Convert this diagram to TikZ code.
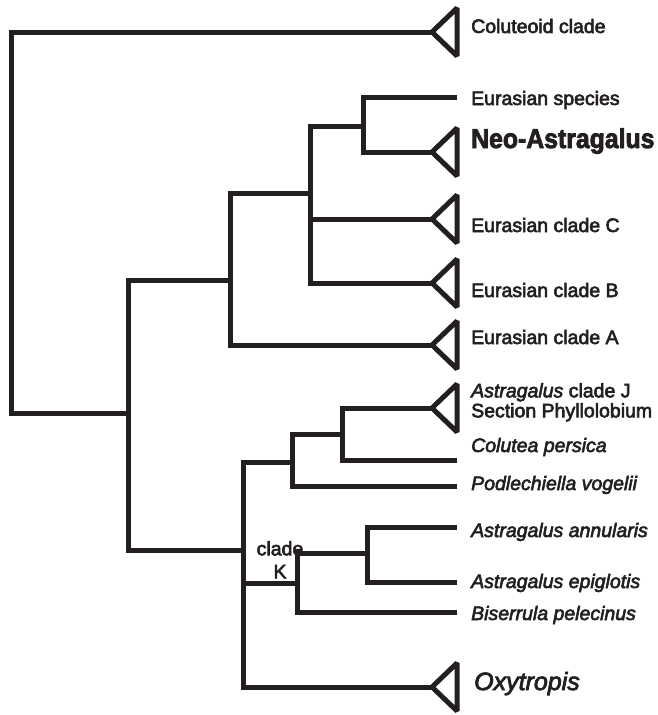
\documentclass[tikz,border=0pt]{standalone}
\usepackage{fontspec}
\usepackage{graphicx}
\setmainfont{Liberation Sans}[FakeBold=3]
\definecolor{ink}{HTML}{231F20}
\begin{document}
\begin{tikzpicture}[x=1pt,y=-1pt,
  br/.style={draw=ink, line width=5pt, line join=miter, line cap=butt},
  tri/.style={draw=ink, line width=5pt, line join=bevel, fill=white},
  lab/.style={inner sep=0pt, anchor=base west, text=ink, font=\fontsize{19.5}{20}\selectfont},
  biglab/.style={inner sep=0pt, anchor=base west, text=ink},
]
\useasboundingbox[fill=white] (0,0) rectangle (657,715);

% internal nodes and tips
\coordinate (root) at (11,222);
\coordinate (tColut) at (432,32);
\coordinate (n1) at (128,413);
\coordinate (n2) at (230,280);
\coordinate (n3) at (310,193);
\coordinate (n4) at (363,126);
\coordinate (tES) at (457,97);
\coordinate (tNeo) at (432,152);
\coordinate (tC) at (432,219);
\coordinate (tB) at (432,283);
\coordinate (tA) at (432,345);
\coordinate (n6) at (243,550);
\coordinate (n7) at (292,462);
\coordinate (n8) at (342,434);
\coordinate (tJ) at (432,408);
\coordinate (tCol) at (457,460);
\coordinate (tPod) at (457,486);
\coordinate (nK) at (297,583);
\coordinate (n9) at (367,553);
\coordinate (tAnn) at (457,527);
\coordinate (tEpi) at (457,582);
\coordinate (tBis) at (457,612);
\coordinate (tOxy) at (432,687);

% branches
\draw[br] (root) |- (tColut);
\draw[br] (root) |- (n1);
\draw[br] (n1) |- (n2);
\draw[br] (n1) |- (n6);
\draw[br] (n2) |- (n3);
\draw[br] (n2) |- (tA);
\draw[br] (n3) |- (n4);
\draw[br] (n3) |- (tC);
\draw[br] (n3) |- (tB);
\draw[br] (n4) |- (tES);
\draw[br] (n4) |- (tNeo);
\draw[br] (n6) |- (n7);
\draw[br] (n6) |- (nK);
\draw[br] (n6) |- (tOxy);
\draw[br] (n7) |- (n8);
\draw[br] (n7) |- (tPod);
\draw[br] (n8) |- (tJ);
\draw[br] (n8) |- (tCol);
\draw[br] (nK) |- (n9);
\draw[br] (nK) |- (tBis);
\draw[br] (n9) |- (tAnn);
\draw[br] (n9) |- (tEpi);

% collapsed clades
\foreach \t in {tColut,tNeo,tC,tB,tA,tJ,tOxy}
  \draw[tri] (\t) -- ++(25,-24) -- ++(0,48) -- cycle;

% labels
\node[lab] (lColut) at (471,33) {Coluteoid clade};
\node[lab] (lES) at (471,105) {Eurasian species};
\node[biglab, font=\bfseries\fontsize{24.8}{26}\selectfont] (lNeo) at (471,148) {\scalebox{1}[1.1]{Neo-Astragalus}};
\node[lab] (lC) at (471,232) {Eurasian clade C};
\node[lab] (lB) at (471,297) {Eurasian clade B};
\node[lab] (lA) at (471,344) {Eurasian clade A};
\node[lab, anchor=north west, align=left] (lJ) at (471,383) {\textit{Astragalus} clade J\\Section Phyllolobium};
\node[lab] (lCol) at (471,452) {\textit{Colutea persica}};
\node[lab] (lPod) at (471,490) {\textit{Podlechiella vogelii}};
\node[lab] (lAnn) at (471,537) {\textit{Astragalus annularis}};
\node[lab] (lEpi) at (471,588) {\textit{Astragalus epiglotis}};
\node[lab] (lBis) at (471,620) {\textit{Biserrula pelecinus}};
\node[biglab, font=\itshape\fontsize{25}{27}\selectfont] (lOxy) at (474,690) {Oxytropis};
\node[lab, anchor=north, align=center, font=\fontsize{19.5}{23}\selectfont] (lK) at (280,541) {clade\\K};
\end{tikzpicture}
\end{document}
